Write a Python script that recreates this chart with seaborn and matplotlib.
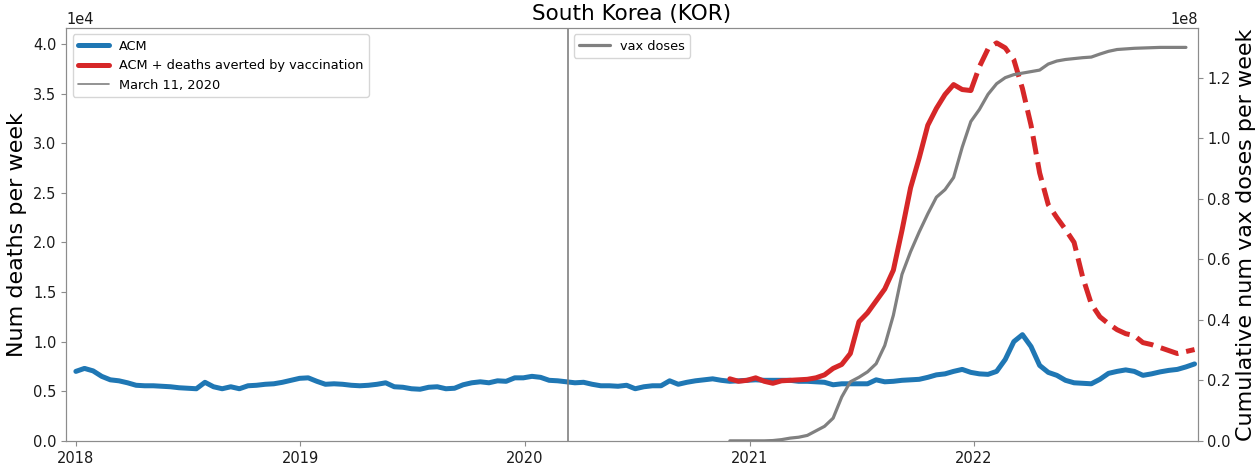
import pandas as pd
import matplotlib
matplotlib.use("Agg")
import matplotlib.pyplot as plt
import matplotlib.dates as mdates
from matplotlib.ticker import MultipleLocator
import seaborn as sns

# weekly-ish series, sampled every 14 days
ACM_START = "2018-01-01"
ACM = [
    7000, 7300, 7050, 6500, 6150, 6050, 5850, 5600, 5550, 5550,
    5500, 5450, 5350, 5300, 5250, 5900, 5450, 5250, 5450, 5250,
    5550, 5600, 5700, 5750, 5900, 6100, 6300, 6350, 6000, 5700,
    5750, 5700, 5600, 5550, 5600, 5700, 5850, 5450, 5400, 5250,
    5200, 5400, 5450, 5250, 5300, 5650, 5850, 5950, 5850, 6050,
    6000, 6350, 6350, 6500, 6400, 6100, 6050, 5950, 5850, 5900,
    5700, 5550, 5550, 5500, 5600, 5250, 5450, 5550, 5550, 6050,
    5700, 5900, 6050, 6150, 6250, 6100, 6000, 6050, 6100, 6150,
    6100, 6100, 6100, 6100, 6000, 6000, 5950, 5900, 5650, 5750,
    5750, 5750, 5750, 6150, 5950, 6000, 6100, 6150, 6200, 6400,
    6650, 6750, 7000, 7200, 6900, 6750, 6700, 7000, 8200, 10000,
    10700, 9500, 7600, 6900, 6600, 6100, 5850, 5800, 5750, 6200,
    6800, 7000, 7150, 7000, 6600, 6750, 6950, 7100, 7200, 7450,
    7750,
]

AVERTED_START = "2020-11-30"
DASHED_FROM = "2021-12-27"
ACM_PLUS_AVERTED = [
    6250, 6000, 6100, 6350, 6000, 5800, 6050, 6100, 6150, 6200,
    6350, 6650, 7300, 7700, 8800, 12000, 12900, 14100, 15300, 17200,
    21200, 25500, 28500, 31800, 33500, 34900, 35900, 35400, 35300, 37700,
    39500, 40100, 39600, 38400, 35500, 31800, 27000, 23800, 22500, 21300,
    20000, 16500, 13800, 12500, 11800, 11200, 10800, 10600, 9900, 9700,
    9400, 9100, 8800, 9000, 9200,
]

VAX_START = "2020-11-30"
VAX_DOSES_MILLIONS = [
    0.0, 0.0, 0.0, 0.0, 0.0, 0.1, 0.4, 0.9, 1.2, 1.8,
    3.3, 4.8, 7.5, 14.5, 19.5, 21.0, 22.8, 25.5, 31.5, 41.5,
    55.0, 62.5, 69.0, 75.0, 80.5, 83.0, 87.0, 97.0, 105.5, 109.5,
    114.5, 118.0, 120.0, 121.0, 121.5, 122.0, 122.5, 124.5, 125.5, 126.0,
    126.3, 126.6, 126.8, 127.8, 128.7, 129.3, 129.5, 129.7, 129.8, 129.9,
    130.0, 130.0, 130.0, 130.0,
]

PANDEMIC_DATE = "2020-03-11"

acm = pd.DataFrame({
    "date": pd.date_range(ACM_START, periods=len(ACM), freq="14D"),
    "deaths": ACM,
})
averted = pd.DataFrame({
    "date": pd.date_range(AVERTED_START, periods=len(ACM_PLUS_AVERTED), freq="14D"),
    "deaths": ACM_PLUS_AVERTED,
})
vax = pd.DataFrame({
    "date": pd.date_range(VAX_START, periods=len(VAX_DOSES_MILLIONS), freq="14D"),
    "doses": [v * 1e6 for v in VAX_DOSES_MILLIONS],
})
solid = averted[averted["date"] <= DASHED_FROM]
dashed = averted[averted["date"] >= DASHED_FROM]

sns.set_style("ticks")
plt.rcParams.update({
    "font.family": ["DejaVu Sans"],
    "text.color": "black",
    "axes.labelcolor": "black",
    "axes.edgecolor": "0.55",
    "xtick.color": "0.55",
    "ytick.color": "0.55",
    "xtick.labelcolor": "0.1",
    "ytick.labelcolor": "0.1",
    "xtick.labelsize": 10.5,
    "ytick.labelsize": 10.5,
})

blue = "#1f77b4"
red = "#d62728"
grey = "#808080"

fig, ax = plt.subplots(figsize=(12.58, 4.67), dpi=100)
fig.subplots_adjust(left=0.0525, right=0.952, bottom=0.056, top=0.94)

sns.lineplot(data=acm, x="date", y="deaths", ax=ax, color=blue, linewidth=3.6)
sns.lineplot(data=solid, x="date", y="deaths", ax=ax, color=red, linewidth=3.6)
sns.lineplot(data=dashed, x="date", y="deaths", ax=ax, color=red, linewidth=3.6,
             linestyle="--")
vline = ax.axvline(pd.Timestamp(PANDEMIC_DATE), color=grey, linewidth=1.2)

ax.set_xlim(pd.Timestamp("2017-12-16"), pd.Timestamp("2022-12-31"))
ax.set_ylim(0, 41600)
ax.yaxis.set_major_locator(MultipleLocator(5000))
ax.ticklabel_format(axis="y", style="sci", scilimits=(0, 0))
ax.yaxis.get_offset_text().set_fontsize(10.5)
ax.xaxis.set_major_locator(mdates.YearLocator())
ax.xaxis.set_major_formatter(mdates.DateFormatter("%Y"))
ax.set_xlabel("")
ax.set_ylabel("Num deaths per week", fontsize=16)
ax.set_title("South Korea (KOR)", fontsize=15.5)

ax.legend(handles=ax.lines[:2] + [vline],
          labels=["ACM", "ACM + deaths averted by vaccination", "March 11, 2020"],
          loc="upper left", fontsize=9.3, handlelength=2.4)

ax2 = ax.twinx()
sns.lineplot(data=vax, x="date", y="doses", ax=ax2, color=grey, linewidth=2.3)
ax2.set_ylim(0, 1.364e8)
ax2.ticklabel_format(axis="y", style="sci", scilimits=(0, 0))
ax2.yaxis.get_offset_text().set_fontsize(10.5)
ax2.set_ylabel("Cumulative num vax doses per week", fontsize=16)
ax2.set_xlabel("")
ax2.legend(handles=ax2.lines[:1], labels=["vax doses"], loc="upper center",
           fontsize=9.3, handlelength=2.4)

fig.savefig("out.png", dpi=100)
